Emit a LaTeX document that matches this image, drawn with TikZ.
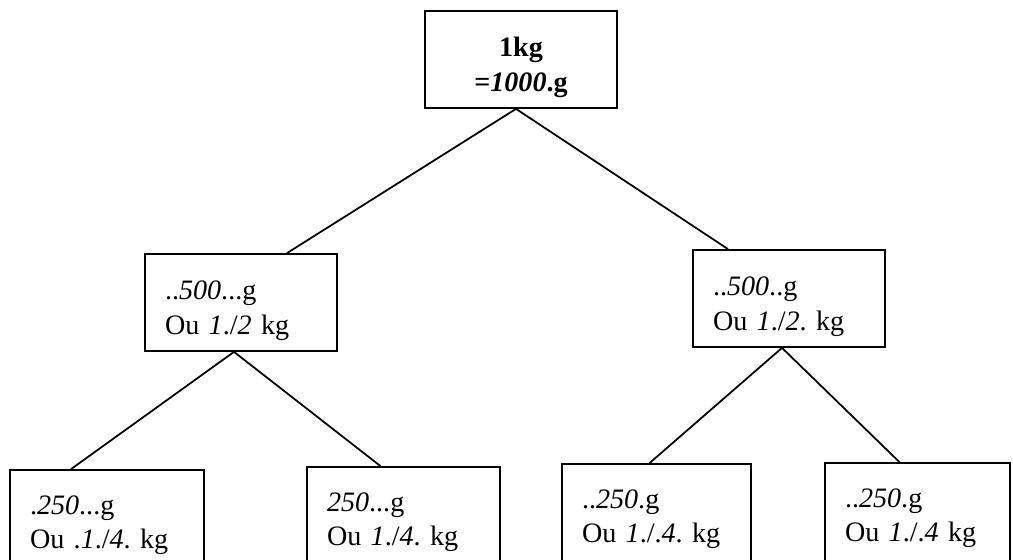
\documentclass[tikz,border=0pt]{standalone}
\usepackage{fontspec}
\setmainfont{Liberation Serif}
\usepackage{tikz}
\frenchspacing
\newcommand{\hw}[1]{\textit{#1}}

\begin{document}
\begin{tikzpicture}[line width=1pt,
    box/.style={draw, rectangle, minimum height=1.94cm, inner xsep=0.4cm, inner ysep=0pt, align=left, font=\fontsize{16}{19.5}\selectfont},
    upper/.style={box, execute at begin node={\rule{0pt}{20pt}}},
    quarter/.style={box, minimum height=2.2cm}]
    \useasboundingbox (0, 0) rectangle (20.26, 11.2);
    \clip (0, 0) rectangle (20.26, 11.2);

    % Top box
    \node[upper, text width=3.04cm, align=center] (kg) at (10.42, 10.01) {\textbf{1kg}\\\textbf{=\hw{1000}.g}};

    % Halves
    \node[upper, text width=3.04cm] (halfL) at (4.82, 5.15) {..\hw{500}...g\\Ou \hw{1}./\hw{2} kg};
    \node[upper, text width=3.04cm] (halfR) at (15.78, 5.23) {..\hw{500}..g\\Ou \hw{1}./\hw{2}. kg};

    % Quarters
    \node[quarter, text width=3.08cm] (qA) at (2.14, 0.70) {.\hw{250}...g\\Ou .\hw{1}./\hw{4}. kg};
    \node[quarter, text width=3.06cm] (qB) at (8.07, 0.76) {\hw{250}...g\\Ou \hw{1}./\hw{4}. kg};
    \node[quarter, text width=2.98cm] (qC) at (13.13, 0.82) {..\hw{250}.g\\Ou \hw{1}./.\hw{4}. kg};
    \node[quarter, text width=2.90cm] (qD) at (18.35, 0.84) {..\hw{250}.g\\Ou \hw{1}./.\hw{4} kg};

    % Branches
    \draw ([xshift=-0.1cm]kg.south) -- ([xshift=0.92cm]halfL.north);
    \draw ([xshift=-0.1cm]kg.south) -- ([xshift=-1.22cm]halfR.north);
    \draw ([xshift=-0.14cm]halfL.south) -- ([xshift=-0.72cm]qA.north);
    \draw ([xshift=-0.14cm]halfL.south) -- ([xshift=-0.46cm]qB.north);
    \draw ([xshift=-0.14cm]halfR.south) -- ([xshift=-0.14cm]qC.north);
    \draw ([xshift=-0.14cm]halfR.south) -- ([xshift=-0.36cm]qD.north);
\end{tikzpicture}
\end{document}
